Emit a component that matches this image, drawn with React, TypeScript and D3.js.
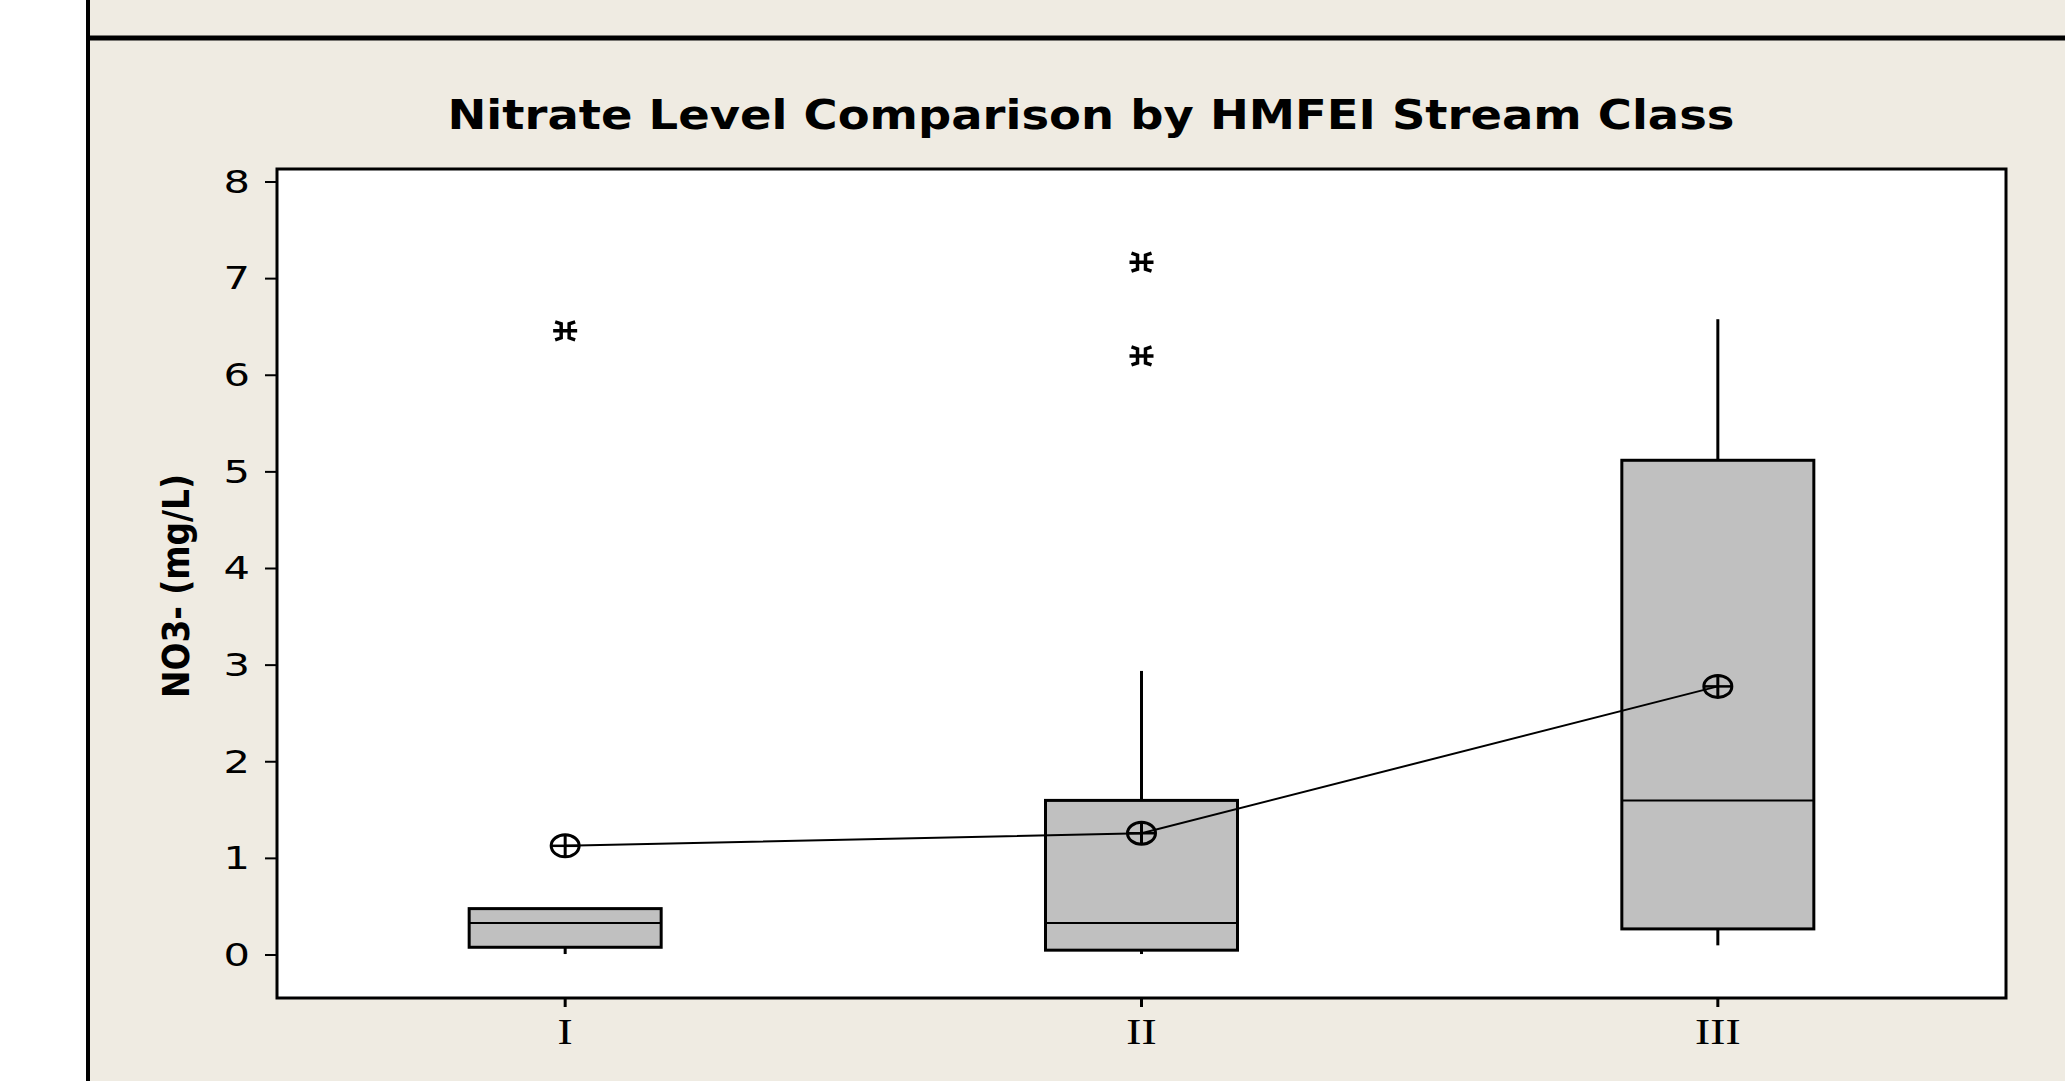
import React from "react";
import * as d3 from "d3";

const categories = ["I", "II", "III"];
const whiskerLow = [0.01, 0.01, 0.1];
const q1 = [0.08, 0.05, 0.27];
const median = [0.33, 0.33, 1.6];
const q3 = [0.48, 1.6, 5.12];
const whiskerHigh = [0.48, 2.94, 6.58];
const means = [1.13, 1.26, 2.78];
const outliers = [[6.46], [7.17, 6.2], []];
const yTicks = [0, 1, 2, 3, 4, 5, 6, 7, 8];

const W = 2065;
const H = 1081;
const frame = { left: 277, right: 2006, top: 169, bottom: 998 };
const SX = 1.3; // horizontal stretch of the original bitmap

export default function App() {
  const x = d3
    .scalePoint<string>()
    .domain(categories)
    .range([frame.left, frame.right])
    .padding(0.5);
  const y = d3.scaleLinear().domain([0, 8]).range([955, 182]);
  const boxW = 192;

  const meanLine = d3
    .line<number>()
    .x((_, i) => x(categories[i]) as number)
    .y((d) => y(d))(means);

  const star = "M-12,0L12,0M-10,-9L-4,-7L-4,7L-10,9M10,-9L4,-7L4,7L10,9";

  return (
    <svg
      width={W}
      height={H}
      style={{ position: "absolute", left: 0, top: 0, display: "block" }}
    >
      <rect x={0} y={0} width={W} height={H} fill="#ffffff" />
      <rect x={88} y={0} width={W - 88} height={H} fill="#efebe2" />
      <line x1={88} y1={0} x2={88} y2={H} stroke="#000" strokeWidth={4} />
      <line x1={86} y1={38} x2={W} y2={38} stroke="#000" strokeWidth={5} />

      <text
        x={1091}
        y={129}
        textAnchor="middle"
        fontFamily="DejaVu Sans"
        fontWeight="bold"
        fontSize={41}
        textLength={1287}
        lengthAdjust="spacingAndGlyphs"
        fill="#000"
      >
        Nitrate Level Comparison by HMFEI Stream Class
      </text>

      <rect
        x={frame.left}
        y={frame.top}
        width={frame.right - frame.left}
        height={frame.bottom - frame.top}
        fill="#ffffff"
        stroke="#000"
        strokeWidth={3}
      />

      {yTicks.map((t) => (
        <g key={t}>
          <line
            x1={frame.left - 12}
            x2={frame.left}
            y1={y(t)}
            y2={y(t)}
            stroke="#000"
            strokeWidth={2}
          />
          <text
            transform={`translate(250,${y(t)}) scale(${SX},1)`}
            textAnchor="end"
            dominantBaseline="central"
            fontFamily="DejaVu Sans"
            fontSize={32}
            fill="#000"
          >
            {t}
          </text>
        </g>
      ))}

      <text
        transform={`translate(177,586) rotate(-90) scale(1,${SX})`}
        textAnchor="middle"
        dominantBaseline="central"
        fontFamily="DejaVu Sans"
        fontWeight="bold"
        fontSize={28}
        textLength={224}
        lengthAdjust="spacingAndGlyphs"
        fill="#000"
      >
        NO3- (mg/L)
      </text>

      {categories.map((c) => (
        <g key={c}>
          <line
            x1={x(c)}
            x2={x(c)}
            y1={frame.bottom}
            y2={frame.bottom + 9}
            stroke="#000"
            strokeWidth={3}
          />
          <text
            transform={`translate(${x(c)},1044) scale(${SX},1)`}
            textAnchor="middle"
            fontFamily="Liberation Serif"
            fontSize={35}
            fill="#000"
          >
            {c}
          </text>
        </g>
      ))}

      {categories.map((c, i) => {
        const cx = x(c) as number;
        return (
          <g key={"box" + c}>
            <line
              x1={cx}
              x2={cx}
              y1={y(whiskerHigh[i])}
              y2={y(q3[i])}
              stroke="#000"
              strokeWidth={3}
            />
            <line
              x1={cx}
              x2={cx}
              y1={y(q1[i])}
              y2={y(whiskerLow[i])}
              stroke="#000"
              strokeWidth={3}
            />
            <rect
              x={cx - boxW / 2}
              y={y(q3[i])}
              width={boxW}
              height={y(q1[i]) - y(q3[i])}
              fill="#c0c0c0"
              stroke="#000"
              strokeWidth={3}
            />
            <line
              x1={cx - boxW / 2}
              x2={cx + boxW / 2}
              y1={y(median[i])}
              y2={y(median[i])}
              stroke="#000"
              strokeWidth={2}
            />
            {outliers[i].map((o, k) => (
              <path
                key={k}
                d={star}
                transform={`translate(${cx},${y(o)})`}
                fill="none"
                stroke="#000"
                strokeWidth={3.5}
              />
            ))}
          </g>
        );
      })}

      <path d={meanLine || ""} fill="none" stroke="#000" strokeWidth={2} />
      {categories.map((c, i) => {
        const cx = x(c) as number;
        const cy = y(means[i]);
        return (
          <g key={"m" + c}>
            <ellipse
              cx={cx}
              cy={cy}
              rx={14}
              ry={11}
              fill="none"
              stroke="#000"
              strokeWidth={3}
            />
            <line x1={cx - 14} x2={cx + 14} y1={cy} y2={cy} stroke="#000" strokeWidth={2.5} />
            <line x1={cx} x2={cx} y1={cy - 11} y2={cy + 11} stroke="#000" strokeWidth={3} />
          </g>
        );
      })}
    </svg>
  );
}
